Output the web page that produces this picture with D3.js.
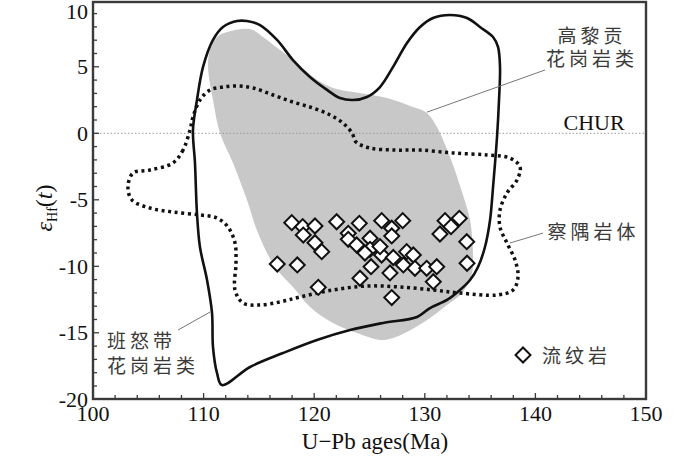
<!DOCTYPE html>
<html>
<head>
<meta charset="utf-8">
<script src="https://cdn.jsdelivr.net/npm/d3@7"></script>
<style>
  body { margin: 0; background: #ffffff; }
  text { font-family: "Liberation Serif", "Times New Roman", serif; }
  .cjk { font-family: "Noto Sans CJK SC", sans-serif; fill: #3a3a3a; }
</style>
</head>
<body>
<div id="container"></div>
<script>
// 班怒带花岗岩类 outline (age Ma, eHf)
var bangongAge = [111.66, 111.21, 110.85, 110.76, 110.31, 109.67, 109.40, 109.22, 109.04, 109.40, 109.95, 110.85, 111.75, 113.02, 113.92, 115.10, 116.64, 118.08, 119.62, 121.16, 122.33, 123.51, 124.77, 125.95, 127.13, 128.39, 129.57, 130.74, 132.28, 133.82, 134.99, 136.17, 136.62, 136.80, 136.71, 136.53, 136.17, 135.90, 135.44, 134.81, 134.09, 133.18, 132.01, 130.47, 129.30, 126.22, 123.24, 120.25, 117.18, 114.20]
var bangongHf = [-18.93, -18.02, -16.07, -13.51, -11.03, -8.55, -5.99, -2.23, 0.25, 2.50, 4.99, 7.02, 7.99, 8.44, 8.44, 8.14, 7.02, 5.51, 4.23, 3.26, 2.65, 2.50, 2.73, 3.48, 4.99, 6.79, 7.99, 8.67, 8.90, 8.67, 7.99, 7.24, 6.49, 4.99, 2.50, -0.28, -4.04, -6.52, -8.55, -10.05, -11.03, -11.78, -12.53, -13.14, -13.81, -14.26, -14.79, -15.54, -16.52, -17.57]

// 高黎贡花岗岩类 field
var gaoligongAge = [111.21, 112.12, 114.20, 115.37, 116.91, 118.45, 119.89, 121.70, 124.14, 126.58, 128.93, 130.20, 131.10, 131.65, 132.55, 133.45, 134.09, 134.36, 134.27, 133.45, 132.01, 130.47, 128.39, 127.13, 125.95, 123.87, 121.70, 119.62, 118.08, 116.46, 114.92, 113.92, 112.66, 111.48, 110.85, 110.40, 110.58]
var gaoligongHf = [7.24, 7.62, 7.84, 7.24, 6.26, 5.29, 4.23, 3.41, 3.03, 2.65, 1.98, 1.53, 0.47, -0.50, -2.38, -4.64, -6.52, -9.00, -10.50, -11.93, -12.91, -13.89, -14.94, -15.39, -15.54, -15.02, -14.26, -13.06, -11.56, -10.05, -7.50, -5.02, -2.23, 0.02, 2.50, 4.99, 6.26]

// 察隅岩体 outline
var chayuAge = [108.77, 108.14, 107.23, 105.15, 103.62, 103.16, 103.53, 105.15, 107.23, 109.67, 111.21, 112.21, 112.84, 112.93, 112.84, 113.56, 115.10, 116.91, 118.72, 121.70, 124.77, 127.76, 130.74, 133.18, 136.53, 137.98, 138.43, 138.16, 137.43, 136.80, 136.80, 137.43, 138.34, 138.61, 137.70, 135.62, 132.55, 129.57, 127.31, 125.05, 123.78, 123.42, 122.60, 121.43, 119.89, 118.08, 116.28, 114.47, 113.02, 111.75, 110.58, 109.67, 109.04]
var chayuHf = [0.25, -1.26, -2.23, -2.76, -2.99, -4.04, -5.02, -5.62, -5.92, -6.14, -6.37, -7.05, -8.25, -9.75, -11.78, -12.76, -12.91, -12.68, -12.31, -11.78, -11.48, -11.56, -11.78, -12.01, -12.16, -11.78, -10.80, -9.53, -8.25, -7.05, -5.77, -4.49, -3.51, -2.53, -1.86, -1.63, -1.48, -1.26, -1.26, -1.11, -0.65, 0.02, 0.77, 1.38, 1.90, 2.35, 2.88, 3.41, 3.56, 3.48, 3.26, 2.50, 1.23]

// 流纹岩 zircons
var rhyoliteAge = [117.97, 118.96, 120.07, 119.01, 120.07, 120.68, 116.66, 118.47, 120.37, 122.03, 124.08, 123.08, 123.08, 123.84, 125.05, 126.10, 127.01, 127.01, 128.00, 125.05, 126.10, 127.15, 125.14, 124.14, 126.85, 128.06, 128.36, 128.96, 129.11, 130.17, 131.08, 130.77, 127.01, 131.37, 131.83, 133.12, 132.37, 133.79, 133.82, 124.59, 125.95]
var rhyoliteHf = [-6.72, -7.02, -6.97, -7.65, -8.23, -8.90, -9.83, -9.90, -11.58, -6.65, -6.77, -7.52, -7.97, -8.40, -7.89, -6.57, -7.14, -7.72, -6.57, -8.72, -9.15, -9.34, -10.03, -10.90, -10.50, -9.90, -8.90, -9.15, -10.15, -10.15, -10.03, -11.16, -12.35, -7.57, -6.57, -6.39, -7.02, -8.15, -9.77, -9.00, -8.52]

var xTicks = [100, 110, 120, 130, 140, 150]
var yTicks = [10, 5, 0, -5, -10, -15, -20]

var width = 700
var height = 456
var plotLeft = 93
var plotRight = 646
var plotTop = 2
var plotBottom = 399

var x = d3.scaleLinear().domain([100, 150]).range([plotLeft, plotRight])
var y = d3.scaleLinear().domain([-20, 0]).range([399.3, 133.3])

function zipPoints(ages, hfs){
    var result = []
    for(var i = 0; i < ages.length; i++){
        result.push([ages[i], hfs[i]])
    }
    return result
}

var svg = d3.select('#container').append('svg')
    .attr('width', width)
    .attr('height', height)

var closedLine = d3.line()
    .x(function(d){ return x(d[0]) })
    .y(function(d){ return y(d[1]) })
    .curve(d3.curveCatmullRomClosed.alpha(0.5))

// gray field
svg.append('path')
    .attr('d', closedLine(zipPoints(gaoligongAge, gaoligongHf)))
    .attr('fill', '#c8c8c8')
    .attr('stroke', 'none')

// CHUR line
svg.append('line')
    .attr('x1', plotLeft)
    .attr('x2', plotRight)
    .attr('y1', y(0))
    .attr('y2', y(0))
    .attr('stroke', '#999')
    .attr('stroke-width', 1)
    .attr('stroke-dasharray', '1.5,2')

// dotted outline
svg.append('path')
    .attr('d', closedLine(zipPoints(chayuAge, chayuHf)))
    .attr('fill', 'none')
    .attr('stroke', '#111')
    .attr('stroke-width', 3.5)
    .attr('stroke-dasharray', '3,3.6')

// solid outline
svg.append('path')
    .attr('d', closedLine(zipPoints(bangongAge, bangongHf)))
    .attr('fill', 'none')
    .attr('stroke', '#111')
    .attr('stroke-width', 2.6)
    .attr('stroke-linejoin', 'round')

// rhyolite diamonds
var diamond = d3.symbol().type(d3.symbolSquare).size(112)

svg.selectAll('path.dot')
    .data(zipPoints(rhyoliteAge, rhyoliteHf))
    .enter()
    .append('path')
    .attr('class', 'dot')
    .attr('d', diamond)
    .attr('transform', function(d){
        return 'translate(' + x(d[0]) + ',' + y(d[1]) + ') rotate(45)'
    })
    .attr('fill', '#ffffff')
    .attr('stroke', '#111')
    .attr('stroke-width', 2)

// leader lines (age, eHf pairs)
var leaders = [
    [[130.20, 1.59], [140.87, 4.76]],
    [[137.70, -8.25], [140.69, -7.50]],
    [[110.58, -13.44], [107.69, -14.79]]
]
for(var i = 0; i < leaders.length; i++){
    svg.append('line')
        .attr('x1', x(leaders[i][0][0]))
        .attr('y1', y(leaders[i][0][1]))
        .attr('x2', x(leaders[i][1][0]))
        .attr('y2', y(leaders[i][1][1]))
        .attr('stroke', '#777')
        .attr('stroke-width', 1)
}

// frame
svg.append('rect')
    .attr('x', plotLeft)
    .attr('y', plotTop)
    .attr('width', plotRight - plotLeft)
    .attr('height', plotBottom - plotTop)
    .attr('fill', 'none')
    .attr('stroke', '#3a3a3a')
    .attr('stroke-width', 2.4)

// y ticks, pointing inward
for(var v = -19; v <= 9; v++){
    var major = v % 5 === 0
    svg.append('line')
        .attr('x1', plotLeft)
        .attr('x2', plotLeft + (major ? 6 : 4))
        .attr('y1', y(v))
        .attr('y2', y(v))
        .attr('stroke', '#3a3a3a')
        .attr('stroke-width', 1.3)
}
// x ticks, pointing inward
for(var a = 102; a < 150; a += 2){
    var majorX = a % 10 === 0
    svg.append('line')
        .attr('x1', x(a))
        .attr('x2', x(a))
        .attr('y1', plotBottom)
        .attr('y2', plotBottom - (majorX ? 6 : 4))
        .attr('stroke', '#3a3a3a')
        .attr('stroke-width', 1.3)
}

svg.selectAll('text.ytick')
    .data(yTicks)
    .enter()
    .append('text')
    .attr('class', 'ytick')
    .attr('x', 88)
    .attr('y', function(d){ return Math.max(y(d), 12) })
    .attr('dy', '0.34em')
    .attr('text-anchor', 'end')
    .attr('font-size', 22)
    .attr('fill', '#111')
    .text(function(d){ return d })

svg.selectAll('text.xtick')
    .data(xTicks)
    .enter()
    .append('text')
    .attr('class', 'xtick')
    .attr('x', function(d){ return x(d) })
    .attr('y', 421)
    .attr('text-anchor', 'middle')
    .attr('font-size', 22)
    .attr('fill', '#111')
    .text(function(d){ return d })

svg.append('text')
    .attr('x', 375)
    .attr('y', 449)
    .attr('text-anchor', 'middle')
    .attr('font-size', 23)
    .attr('fill', '#111')
    .text('U\u2212Pb ages(Ma)')

var yLabel = svg.append('text')
    .attr('transform', 'translate(52,208) rotate(-90)')
    .attr('text-anchor', 'middle')
    .attr('font-size', 24)
    .attr('fill', '#111')
yLabel.append('tspan').attr('font-style', 'italic').text('\u03b5')
yLabel.append('tspan').attr('font-size', 14).attr('dy', 5).text('Hf')
yLabel.append('tspan').attr('dy', -5).text('(')
yLabel.append('tspan').attr('font-style', 'italic').text('t')
yLabel.append('tspan').text(')')

// labels, placed in data space
var labels = [
    { t: '高黎贡', age: 145.12, hf: 7.3, anchor: 'middle', cjk: true },
    { t: '花岗岩类', age: 145.12, hf: 5.55, anchor: 'middle', cjk: true },
    { t: 'CHUR', age: 145.3, hf: 0.81, anchor: 'middle', cjk: false },
    { t: '察隅岩体', age: 145.25, hf: -7.42, anchor: 'middle', cjk: true },
    { t: '班怒带', age: 101.27, hf: -15.65, anchor: 'start', cjk: true },
    { t: '花岗岩类', age: 101.27, hf: -17.5, anchor: 'start', cjk: true },
    { t: '流纹岩', age: 140.6, hf: -16.75, anchor: 'start', cjk: true }
]
for(var j = 0; j < labels.length; j++){
    var lb = labels[j]
    var tx = svg.append('text')
        .attr('x', x(lb.age))
        .attr('y', y(lb.hf))
        .attr('dy', '0.36em')
        .attr('text-anchor', lb.anchor)
        .text(lb.t)
    if(lb.cjk){
        tx.attr('class', 'cjk').attr('font-size', 19).attr('letter-spacing', 4)
    } else {
        tx.attr('font-size', 22).attr('fill', '#111')
    }
}

// legend symbol
svg.append('path')
    .attr('d', diamond)
    .attr('transform', 'translate(' + x(138.88) + ',' + y(-16.67) + ') rotate(45)')
    .attr('fill', '#ffffff')
    .attr('stroke', '#111')
    .attr('stroke-width', 2)
</script>
</body>
</html>
